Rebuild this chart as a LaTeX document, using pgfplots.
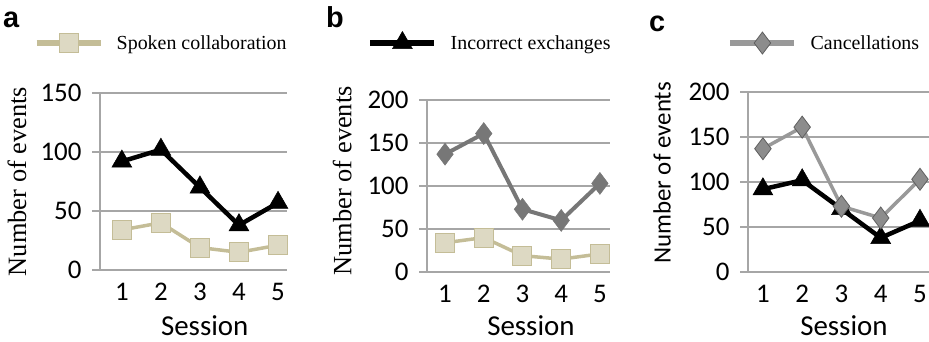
\documentclass[border=0pt]{standalone}
\usepackage{pgfplots}
\pgfplotsset{compat=1.18}
\usepackage{fontspec}
\setmainfont{Liberation Serif}
\newfontfamily\calib{Carlito}
\newfontfamily\arl{Liberation Sans}
\newfontfamily\tms{Liberation Serif}
\definecolor{beigeF}{HTML}{DDD9C3}
\definecolor{beigeL}{HTML}{C4BD97}
\definecolor{gridc}{HTML}{A6A6A6}
\definecolor{grayB}{HTML}{777777}
\definecolor{grayC}{HTML}{999999}
\definecolor{grayCF}{HTML}{8C8C8C}
\definecolor{grayCE}{HTML}{5F5F5F}

\pgfplotstableread{
x spoken incorrect cancel
1 34 92 137
2 40 102 161
3 19 70 73
4 15 38 60
5 21 57 103
}\data

\pgfplotsset{
  panel/.style={
    scale only axis,
    axis lines*=left,
    axis line style={draw=gridc, line width=1.5bp},
    ymajorgrids,
    grid style={draw=gridc, line width=1.5bp},
    xtick={1,2,3,4,5},
    ytick distance=50,
    ymin=0,
    tick align=outside,
    major tick length=8bp,
    x tick style={draw=none},
    y tick style={draw=gridc, line width=1.5bp},
    /pgf/number format/assume math mode=true,
    tick label style={font=\calib\fontsize{27}{27}\selectfont},
    xticklabel style={yshift=-2bp},
    yticklabel style={xshift=-7bp},
    legend style={draw=none, fill=none, font=\tms\fontsize{20}{20}\selectfont, inner sep=0pt, column sep=11bp,
      cells={anchor=west}},
    legend image code/.code={
      \draw[mark repeat=2,mark phase=2,##1, line width=6.5bp] plot coordinates {(0bp,0bp) (32bp,0bp) (64bp,0bp)};
    },
    clip=false,
  },
  spoken/.style={color=beigeL, line width=3.5bp, mark=square*, mark size=9.5bp,
     mark options={fill=beigeF, draw=beigeL, line width=1bp}},
  incorrect/.style={color=black, line width=4.5bp, mark=triangle*, mark size=11.5bp,
     mark options={fill=black, draw=black, line width=0.5bp}},
  cancelB/.style={color=grayB, line width=4bp, mark=diamond*, mark size=11bp,
     mark options={fill=grayB, draw=grayB, line width=0.5bp}},
  cancelC/.style={color=grayC, line width=3.5bp, mark=diamond*, mark size=11bp,
     mark options={fill=grayCF, draw=grayCE, line width=0.8bp}},
}

\begin{document}
\begin{tikzpicture}
\path[use as bounding box] (0bp,0bp) rectangle (929bp,342bp);

% panel letters
\node[anchor=base west, inner sep=0pt, font=\arl\bfseries\fontsize{29}{29}\selectfont] at (3bp,314bp) {a};
\node[anchor=base west, inner sep=0pt, font=\arl\bfseries\fontsize{29}{29}\selectfont] at (326bp,314bp) {b};
\node[anchor=base west, inner sep=0pt, font=\arl\bfseries\fontsize{29}{29}\selectfont] at (649bp,310bp) {c};

% ---------- a ----------
\begin{axis}[panel, at={(100bp,72bp)}, anchor=south west,
  width=187bp, height=177bp, xmin=0.44, xmax=5.23, ymax=150,
  ylabel={\tms\fontsize{26.5}{26.5}\selectfont Number of events},
  ylabel style={at={(axis description cs:-0.444,0.5)}, anchor=center},
  xlabel={\calib\fontsize{29}{29}\selectfont Session},
  xlabel style={at={(axis description cs:0.56,-0.372)}, anchor=base},
  legend style={at={(axis description cs:-0.358,1.282)}, anchor=west},
]
\addlegendimage{spoken}
\addlegendentry{Spoken collaboration}
\addplot[spoken, forget plot] table[x=x, y=spoken] {\data};
\addplot[incorrect, forget plot] table[x=x, y=incorrect] {\data};
\end{axis}

% ---------- b ----------
\begin{axis}[panel, at={(427bp,70bp)}, anchor=south west,
  width=183bp, height=172bp, xmin=0.535, xmax=5.26, ymax=200,
  ylabel={\tms\fontsize{26.5}{26.5}\selectfont Number of events},
  ylabel style={at={(axis description cs:-0.464,0.53)}, anchor=center},
  xlabel={\calib\fontsize{29}{29}\selectfont Session},
  xlabel style={at={(axis description cs:0.568,-0.372)}, anchor=base},
  legend style={at={(axis description cs:-0.328,1.337)}, anchor=west},
]
\addlegendimage{incorrect}
\addlegendentry{Incorrect exchanges}
\addplot[spoken, forget plot] table[x=x, y=spoken] {\data};
\addplot[cancelB, forget plot] table[x=x, y=cancel] {\data};
\end{axis}

% ---------- c ----------
\begin{axis}[panel, at={(748bp,70bp)}, anchor=south west,
  width=181bp, height=180bp, xmin=0.62, xmax=5.23, ymax=200,
  ylabel={\calib\fontsize{25}{25}\selectfont Number of events},
  ylabel style={at={(axis description cs:-0.475,0.55)}, anchor=center},
  xlabel={\calib\fontsize{29}{29}\selectfont Session},
  xlabel style={at={(axis description cs:0.53,-0.355)}, anchor=base},
  legend style={at={(axis description cs:-0.116,1.272)}, anchor=west},
]
\addlegendimage{cancelC}
\addlegendentry{Cancellations}
\addplot[incorrect, forget plot] table[x=x, y=incorrect] {\data};
\addplot[cancelC, forget plot] table[x=x, y=cancel] {\data};
\end{axis}
\end{tikzpicture}
\end{document}
